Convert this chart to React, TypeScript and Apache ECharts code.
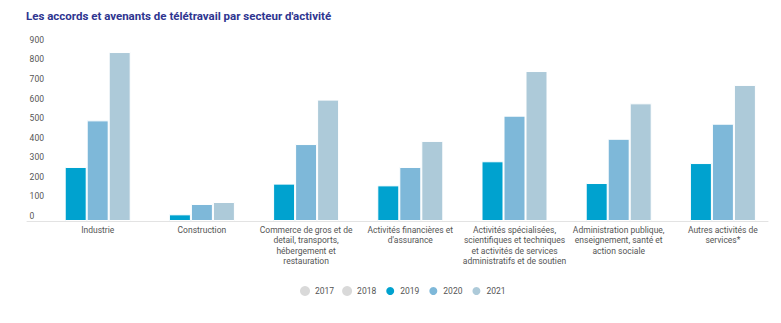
import React, { useEffect, useRef } from "react";
import * as echarts from "echarts";

const categories = [
  "Industrie",
  "Construction",
  "Commerce de gros et de\ndetail, transports,\nhébergement et\nrestauration",
  "Activités financières et\nd'assurance",
  "Activités spécialisées,\nscientifiques et techniques\net activités de services\nadministratifs et de soutien",
  "Administration publique,\nenseignement, santé et\naction sociale",
  "Autres activités de\nservices*",
];

const values2017: number[] = [];
const values2018: number[] = [];
const values2019 = [276, 34, 191, 182, 305, 194, 296];
const values2020 = [514, 87, 393, 276, 538, 420, 497];
const values2021 = [863, 97, 620, 409, 766, 601, 695];

const yTicks = { min: 0, max: 900, interval: 100 };

const FONT = "Roboto, 'Noto Sans', sans-serif";

export default function App() {
  const ref = useRef<HTMLDivElement>(null);

  useEffect(() => {
    if (!ref.current) return;
    const chart = echarts.init(ref.current, null, { renderer: "svg" });
    const barStyle = (color: string) => ({
      color,
      borderColor: "#ffffff",
      borderWidth: 1,
    });
    chart.setOption({
      animation: false,
      backgroundColor: "#ffffff",
      textStyle: { fontFamily: FONT },
      title: {
        text: "Les accords et avenants de télétravail par secteur d'activité",
        left: 26,
        top: 10,
        padding: 0,
        textStyle: {
          fontFamily: FONT,
          fontSize: 11.5,
          fontWeight: "bold",
          color: "#2e3590",
        },
      },
      legend: {
        left: 300,
        top: 285,
        padding: 0,
        itemWidth: 10,
        itemHeight: 10,
        itemGap: 8,
        icon: "circle",
        textStyle: { fontFamily: FONT, fontSize: 8.5, color: "#555555" },
        data: ["2017", "2018", "2019", "2020", "2021"],
      },
      grid: [
        { left: 45.6, right: 6, top: 44.8, bottom: 102 },
        { left: 27, right: 13, top: 44.8, bottom: 102 },
      ],
      xAxis: [
        {
          type: "category",
          gridIndex: 0,
          data: categories,
          axisLine: { show: false },
          axisTick: { show: false },
          axisLabel: {
            interval: 0,
            margin: 4,
            fontFamily: FONT,
            fontSize: 8.5,
            lineHeight: 10.3,
            color: "#555555",
            align: "center",
          },
        },
        {
          type: "value",
          gridIndex: 1,
          min: 0,
          max: 1,
          axisLine: { show: true, lineStyle: { color: "#e3e3e3", width: 1 } },
          axisTick: { show: false },
          axisLabel: { show: false },
          splitLine: { show: false },
        },
      ],
      yAxis: [
        {
          type: "value",
          gridIndex: 0,
          min: yTicks.min,
          max: yTicks.max,
          interval: yTicks.interval,
          axisLine: { show: false },
          axisTick: { show: false },
          splitLine: { show: false },
          axisLabel: {
            align: "left",
            verticalAlign: "bottom",
            margin: 16,
            fontFamily: FONT,
            fontSize: 8.5,
            color: "#555555",
            padding: [0, 0, 0.5, 0],
          },
        },
        {
          type: "value",
          gridIndex: 1,
          min: 0,
          max: 1,
          show: false,
        },
      ],
      series: [
        {
          name: "2017",
          type: "line",
          xAxisIndex: 1,
          yAxisIndex: 1,
          data: values2017,
          itemStyle: { color: "#d9d9d9" },
        },
        {
          name: "2018",
          type: "line",
          xAxisIndex: 1,
          yAxisIndex: 1,
          data: values2018,
          itemStyle: { color: "#d9d9d9" },
        },
        {
          name: "2019",
          type: "bar",
          barWidth: 22,
          barGap: 0,
          data: values2019,
          itemStyle: barStyle("#00a2cf"),
        },
        {
          name: "2020",
          type: "bar",
          barWidth: 22,
          barGap: 0,
          data: values2020,
          itemStyle: barStyle("#7eb8d9"),
        },
        {
          name: "2021",
          type: "bar",
          barWidth: 22,
          barGap: 0,
          data: values2021,
          itemStyle: barStyle("#adcad9"),
        },
      ],
    });
    return () => chart.dispose();
  }, []);

  return (
    <div
      ref={ref}
      style={{ position: "absolute", left: 0, top: 0, width: 781, height: 323 }}
    />
  );
}
